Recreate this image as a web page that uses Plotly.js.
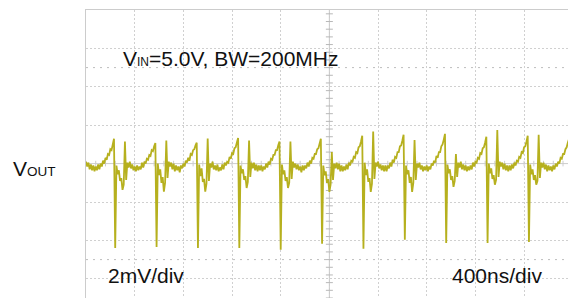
<!DOCTYPE html>
<html><head><meta charset="utf-8">
<script src="https://cdn.plot.ly/plotly-3.0.1.min.js"></script>
<style>html,body{margin:0;padding:0;background:#fff;}#chart{width:568px;height:298px;}</style>
</head><body><div id="chart"></div>
<script>
// Oscilloscope capture: 400 ns/div, 2 mV/div, samples every 10 ns (mV)
const sampleStartNs = 0;
const sampleStepNs = 10;
const lead    = [0.1, -0.15, 0.05, -0.3, -0.05, -0.35, -0.1, -0.4, -0.15, -0.35, -0.05, -0.3, 0.0, -0.15, 0.15, 0.0, 0.3, 0.2, 0.5, 0.45, 0.75, 0.7, 1.0, 1.3];
const cycle01 = [-4.39, -0.1, -0.55, -0.35, -0.9, -0.75, -1.37, -1.1, 1.15, -0.85, 0.05, -0.2, 0.1, -0.25, -0.05, -0.35, -0.15, -0.4, -0.1, -0.35, -0.15, -0.3, 0.05, -0.2, 0.1, 0.0, 0.25, 0.2, 0.45, 0.4, 0.7, 0.65, 0.9, 1.07];
const cycle02 = [-4.34, 0.0, -0.6, -0.3, -1.0, -0.7, -1.46, -1.0, 1.2, -0.75, 0.1, -0.15, 0.05, -0.3, 0.0, -0.4, -0.1, -0.35, -0.15, -0.45, -0.1, -0.25, 0.0, -0.15, 0.15, 0.05, 0.3, 0.15, 0.5, 0.45, 0.7, 0.75, 0.95, 1.09];
const cycle03 = [-4.39, -0.05, -0.65, -0.25, -0.95, -0.8, -1.46, -1.05, 1.3, -0.9, 0.0, -0.2, 0.1, -0.3, -0.1, -0.35, -0.05, -0.4, -0.2, -0.35, -0.05, -0.3, 0.05, -0.1, 0.1, 0.05, 0.35, 0.25, 0.55, 0.5, 0.8, 0.85, 1.1, 1.33];
const cycle04 = [-4.39, -0.1, -0.5, -0.3, -0.85, -0.65, -1.27, -0.95, 1.2, -0.7, 0.05, -0.25, 0.05, -0.35, -0.05, -0.4, -0.1, -0.35, -0.1, -0.4, -0.15, -0.3, 0.0, -0.2, 0.1, -0.05, 0.25, 0.2, 0.45, 0.45, 0.7, 0.7, 0.95, 1.15];
const cycle05 = [-4.49, -0.05, -0.55, -0.35, -0.9, -0.7, -1.27, -1.0, 1.15, -0.8, 0.1, -0.2, 0.0, -0.3, -0.05, -0.35, -0.15, -0.45, -0.1, -0.35, -0.1, -0.25, 0.05, -0.15, 0.15, 0.0, 0.3, 0.25, 0.5, 0.5, 0.75, 0.8, 1.05, 1.3];
const cycle06 = [-4.18, -0.1, -0.6, -0.4, -1.0, -0.8, -1.47, -1.1, 0.6, -0.85, 0.0, -0.25, 0.05, -0.3, 0.0, -0.4, -0.1, -0.4, -0.15, -0.35, -0.05, -0.3, 0.05, -0.1, 0.15, 0.1, 0.35, 0.3, 0.6, 0.55, 0.85, 0.9, 1.15, 1.45];
const cycle07 = [-4.44, 0.05, -0.6, -0.3, -0.95, -0.75, -1.47, -1.05, 1.67, -0.8, 0.05, -0.15, 0.1, -0.25, -0.05, -0.35, -0.1, -0.4, -0.1, -0.4, -0.1, -0.25, 0.05, -0.15, 0.2, 0.05, 0.35, 0.3, 0.6, 0.6, 0.9, 0.95, 1.2, 1.5];
const cycle08 = [-3.97, -0.1, -0.55, -0.35, -1.0, -0.7, -1.47, -1.0, 1.23, -0.85, 0.0, -0.2, 0.05, -0.3, -0.1, -0.4, -0.15, -0.35, -0.1, -0.4, -0.15, -0.3, 0.0, -0.1, 0.15, 0.05, 0.4, 0.3, 0.6, 0.6, 0.9, 1.0, 1.25, 1.55];
const cycle09 = [-4.13, -0.05, -0.5, -0.3, -0.85, -0.65, -1.21, -0.9, 0.5, -0.7, 0.05, -0.2, 0.1, -0.3, -0.05, -0.35, -0.1, -0.4, -0.15, -0.35, -0.1, -0.3, 0.05, -0.15, 0.1, 0.05, 0.3, 0.25, 0.55, 0.5, 0.8, 0.85, 1.1, 1.4];
const cycle10 = [-4.13, 0.0, -0.5, -0.25, -0.8, -0.6, -1.1, -0.85, 1.75, -0.7, 0.1, -0.15, 0.05, -0.3, 0.0, -0.35, -0.1, -0.4, -0.1, -0.35, -0.05, -0.25, 0.05, -0.1, 0.15, 0.1, 0.35, 0.3, 0.6, 0.55, 0.85, 0.9, 1.15, 1.45];
const cycle11 = [-4.08, -0.05, -0.55, -0.3, -0.85, -0.6, -1.1, -0.9, 1.5, -0.75, 0.05, -0.2, 0.05, -0.3, -0.05, -0.4, -0.1, -0.35, -0.15, -0.4, -0.1, -0.3, 0.0, -0.15, 0.1, 0.0, 0.3, 0.25, 0.5, 0.5, 0.75, 0.85, 1.1, 1.3];

const vout = [].concat(lead, cycle01, cycle02, cycle03, cycle04, cycle05, cycle06, cycle07, cycle08, cycle09, cycle10, cycle11);

// Screen setup
const nsPerDiv = 400, mvPerDiv = 2;
const xRange = [0, 3961];
const yRange = [-7, 8];
const markerLevels = [5, -5];

const labelTitleMain = '=5.0V, BW=200MHz';
const labelVin = 'V', labelVinSub = 'IN';
const labelVout = 'V', labelVoutSub = 'OUT';
const labelVdiv = '2mV/div';
const labelTdiv = '400ns/div';

const W = 568, H = 298, ML = 86, MT = 10;
const PW = W - ML, PH = H - MT;
const px = x => (x - ML) / PW;
const py = y => (H - y) / PH;

// minor ticks on the centre axes
const tickYs = [], tickXs = [];
for (let v = yRange[0]; v <= yRange[1] + 1e-9; v += mvPerDiv / 5) tickYs.push(+v.toFixed(3));
for (let t = 0; t <= xRange[1]; t += nsPerDiv / 5) tickXs.push(t);
const centerX = nsPerDiv * 5;

const font = 'Liberation Sans, Arial, Helvetica, sans-serif';
const traceColor = '#b6b01e';

const data = [
  {x: tickYs.map(() => centerX), y: tickYs, mode: 'markers', type: 'scatter', hoverinfo: 'skip',
   marker: {symbol: 'line-ew', size: 5, line: {width: 1, color: '#b8b8b8'}}},
  {x: tickXs, y: tickXs.map(() => 0), mode: 'markers', type: 'scatter', hoverinfo: 'skip',
   marker: {symbol: 'line-ns', size: 4, line: {width: 1, color: '#cccccc'}}},
  {y: vout, x0: sampleStartNs, dx: sampleStepNs, mode: 'lines', type: 'scatter',
   line: {color: traceColor, width: 1.8}, hoverinfo: 'skip'}
];

const shapes = [
  {type: 'line', xref: 'x', yref: 'paper', x0: centerX, x1: centerX, y0: 0, y1: 1, layer: 'below', line: {color: '#c4c4c4', width: 1}},
  {type: 'line', xref: 'paper', yref: 'y', x0: 0, x1: 1, y0: 0, y1: 0, layer: 'below', line: {color: '#cdcdcd', width: 1}}
].concat(markerLevels.map(v => ({type: 'line', xref: 'paper', yref: 'y', x0: 0, x1: 1, y0: v, y1: v, layer: 'below',
   line: {color: '#bdbdbd', width: 1, dash: '2px,5px'}})));

const ann = (text, x, yc, size) => ({text, xref: 'paper', yref: 'paper', x: px(x), y: py(yc),
  xanchor: 'left', yanchor: 'middle', showarrow: false, font: {family: font, size, color: '#111'}});

const layout = {
  width: W, height: H,
  margin: {l: ML, r: 0, t: MT, b: 0, pad: 0},
  paper_bgcolor: '#fff', plot_bgcolor: '#fff',
  showlegend: false, hovermode: false,
  xaxis: {range: xRange, tick0: 0, dtick: nsPerDiv, showgrid: true, gridcolor: '#d0d0d0', griddash: '2px,2px', gridwidth: 1,
          showticklabels: false, ticks: '', zeroline: false, showline: true, linecolor: '#cccccc', linewidth: 1, side: 'top', fixedrange: true},
  yaxis: {range: yRange, tick0: 0, dtick: mvPerDiv, showgrid: true, gridcolor: '#d0d0d0', griddash: '2px,2px', gridwidth: 1,
          showticklabels: false, ticks: '', zeroline: false, showline: true, linecolor: '#cccccc', linewidth: 1, fixedrange: true},
  shapes,
  annotations: [
    ann(labelVin, 120.5, 58.7, 21),
    ann(labelVinSub, 134.5, 61.8, 12),
    ann(labelTitleMain, 147.3, 58.7, 21),
    ann(labelVout, 11, 168.5, 21),
    ann(labelVoutSub, 24.5, 171.5, 13.5),
    ann(labelVdiv, 105.5, 275.7, 21),
    ann(labelTdiv, 450, 275.7, 21)
  ]
};

Plotly.newPlot('chart', data, layout, {displayModeBar: false, staticPlot: true});
</script></body></html>
